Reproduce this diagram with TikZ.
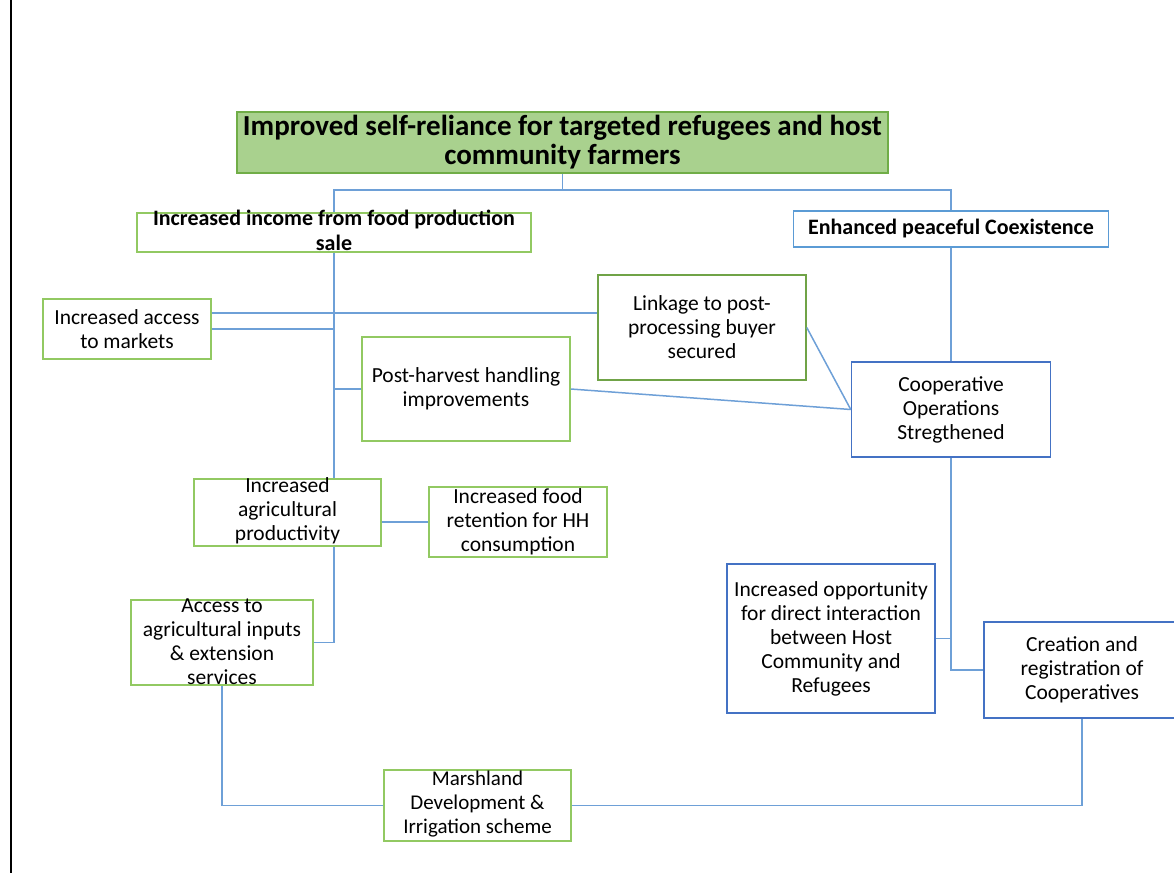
\documentclass[tikz,border=0pt]{standalone}
\usepackage{fontspec}
\setmainfont{Carlito}
\usepackage{tikz}
\usetikzlibrary{calc}
\definecolor{titlefill}{RGB}{169,209,142}
\definecolor{titleline}{RGB}{112,173,71}
\definecolor{boxgreen}{RGB}{146,201,98}
\definecolor{darkgreen}{RGB}{112,163,71}
\definecolor{boxblue}{RGB}{68,114,196}
\definecolor{paleblue}{RGB}{91,155,213}
\definecolor{linkblue}{RGB}{110,160,215}
\tikzset{
    basebox/.style={draw, fill=white, inner sep=0pt, align=center, line width=1.5pt, font=\fontsize{21.5}{24}\selectfont},
    greenbox/.style={basebox, draw=boxgreen},
    bluebox/.style={basebox, draw=boxblue},
    boxtext/.style={inner sep=0pt, align=center, font=\fontsize{21.5}{24}\selectfont},
    link/.style={draw=linkblue, line width=1.5pt}}

\begin{document}
\begin{tikzpicture}[x=1pt, y=-1pt]
    \useasboundingbox (0,0) rectangle (1174,873);
    \draw[line width=2.5pt] (11,0) -- (11,873);

    \coordinate (trunk) at (334,190);

    \node[basebox, draw=titleline, fill=titlefill, minimum width=651pt, minimum height=61pt, font=\fontsize{29}{29}\selectfont\bfseries] (title) at (562.5,142.5) {Improved self-reliance for targeted refugees and host\\community farmers};
    \node[basebox, draw=paleblue, minimum width=315pt, minimum height=36pt, font=\fontsize{22}{24}\selectfont\bfseries] (enhanced) at (951,229) {Enhanced peaceful Coexistence};
    \node[greenbox, minimum width=187pt, minimum height=67pt] (prod) at (287.5,512.5) {};
    \node[boxtext] (prodtext) at (287.5,511) {Increased\\agricultural\\productivity};

    \draw[link] (title.south) |- (trunk) -- (trunk |- prod.north);
    \draw[link] (trunk) -| (enhanced.north);

    \node[greenbox, minimum width=394pt, minimum height=39pt] (income) at (334,232.5) {};
    \node[boxtext, font=\fontsize{22}{25}\selectfont\bfseries] (incometext) at (334,230.5) {Increased income from food production\\sale};

    \node[greenbox, minimum width=168pt, minimum height=60pt] (markets) at (127,329) {Increased access\\to markets};
    \node[basebox, draw=darkgreen, minimum width=208pt, minimum height=105pt] (linkage) at (702,327.5) {Linkage to post-\\processing buyer\\secured};
    \node[greenbox, minimum width=208pt, minimum height=104pt] (harvest) at (466,389) {Post-harvest handling\\improvements};
    \node[bluebox, minimum width=199pt, minimum height=95pt] (coop) at (951,409.5) {Cooperative\\Operations\\Stregthened};

    \node[greenbox, minimum width=178pt, minimum height=70pt] (food) at (518,522) {Increased food\\retention for HH\\consumption};

    \node[greenbox, minimum width=182pt, minimum height=85pt] (inputs) at (222,642.5) {};
    \node[boxtext] (inputstext) at (222,642) {Access to\\agricultural inputs\\\& extension\\services};

    \node[bluebox, minimum width=208pt, minimum height=149pt] (chance) at (831,638.5) {Increased opportunity\\for direct interaction\\between Host\\Community and\\Refugees};
    \node[bluebox, minimum width=196pt, minimum height=96pt] (creation) at (1082,670) {Creation and\\registration of\\Cooperatives};

    \node[greenbox, minimum width=187pt, minimum height=71pt] (marsh) at (477.5,805.5) {};
    \node[boxtext, font=\fontsize{21}{24}\selectfont] (marshtext) at (477.5,804) {Marshland\\Development \&\\Irrigation scheme};

    \draw[link] (markets.east) -- (markets.east -| trunk);
    \draw[link] ($(markets.east)+(0,-16)$) coordinate (upper) -- (upper -| linkage.west);
    \draw[link] (harvest.west) -- (harvest.west -| trunk);
    \draw[link] (harvest.east) -- (coop.west);
    \draw[link] (linkage.east) -- (coop.west);
    \draw[link] (enhanced.south) -- (coop.north);
    \draw[link] (coop.south) |- (creation.west);
    \draw[link] (chance.east) -- (chance.east -| coop.south);
    \draw[link] (food.west -| prod.east) -- (food.west);
    \draw[link] (trunk |- prod.south) |- (inputs.east);
    \draw[link] (inputs.south) |- (marsh.west);
    \draw[link] (creation.south) |- (marsh.east);
\end{tikzpicture}
\end{document}
